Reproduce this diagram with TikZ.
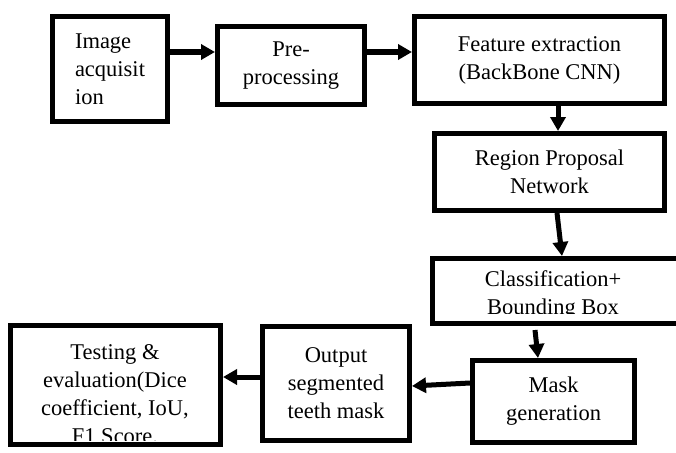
\documentclass[tikz,border=0pt]{standalone}
\usepackage{fontspec}
\setmainfont{Liberation Serif}
\usetikzlibrary{arrows.meta}
\tikzstyle{block} = [draw, line width=5pt, inner sep=0pt, align=center, font=\fontsize{22.5}{28}\selectfont]
\tikzstyle{lbl} = [inner sep=0pt, align=center, font=\fontsize{22.5}{28}\selectfont]
\tikzstyle{arrow} = [line width=5pt, -{Triangle[length=14pt,width=15pt]}]

\begin{document}
\begin{tikzpicture}[x=1pt,y=-1pt]
    \useasboundingbox (0,0) rectangle (676,452);
    % top row
    \node[block, minimum width=115, minimum height=105, align=left] (img) at (110,69)
        {Image\\acquisit\\ion};
    \node[block, minimum width=147, minimum height=78] (pre) at (291,65.5)
        {Pre-\\processing};
    \node[block, minimum width=250, minimum height=87] (feat) at (539.5,60)
        {Feature extraction\\(BackBone CNN)};
    % right column
    \node[block, minimum width=230, minimum height=77] (rpn) at (549.5,172)
        {Region Proposal\\Network};
    \node[block, minimum width=267.5, minimum height=65] (cls) at (566,291) {};
    \begin{scope}
        \clip ([yshift=13pt]cls.south west) rectangle (cls.north east);
        \node[lbl] (clstxt) at (553,295.5) {Classification+\\Bounding Box};
    \end{scope}
    \node[block, minimum width=162, minimum height=82] (mask) at (553.5,401.5)
        {Mask\\generation};
    % bottom row
    \node[block, minimum width=147, minimum height=114] (out) at (336,383.5)
        {Output\\segmented\\teeth mask};
    \node[block, minimum width=210, minimum height=119] (test) at (115.5,385) {};
    \begin{scope}
        \clip ([yshift=7pt]test.south west) rectangle (test.north east);
        \node[lbl] (testtxt) at (115,394)
            {Testing \&\\evaluation(Dice\\coefficient, IoU,\\F1 Score.};
    \end{scope}
    % connectors
    \draw[arrow] ([yshift=17pt]img.east) -- ([yshift=17pt]img.east -| pre.west);
    \draw[arrow] ([yshift=13.5pt]pre.east) -- ([yshift=13.5pt]pre.east -| feat.west);
    \draw[arrow] ([xshift=18.5pt]feat.south) -- ([xshift=18.5pt]feat.south |- rpn.north);
    \draw[arrow] ([xshift=7.5pt]rpn.south) -- ([xshift=-4pt]cls.north);
    \draw[arrow] ([xshift=-31pt,yshift=-4pt]cls.south) -- ([xshift=-15.5pt]mask.north);
    \draw[arrow] ([yshift=18.5pt]mask.west) -- ([yshift=-2.5pt]out.east);
    \draw[arrow] ([yshift=6.5pt]out.west) -- ([yshift=6.5pt]out.west -| test.east);
\end{tikzpicture}
\end{document}
